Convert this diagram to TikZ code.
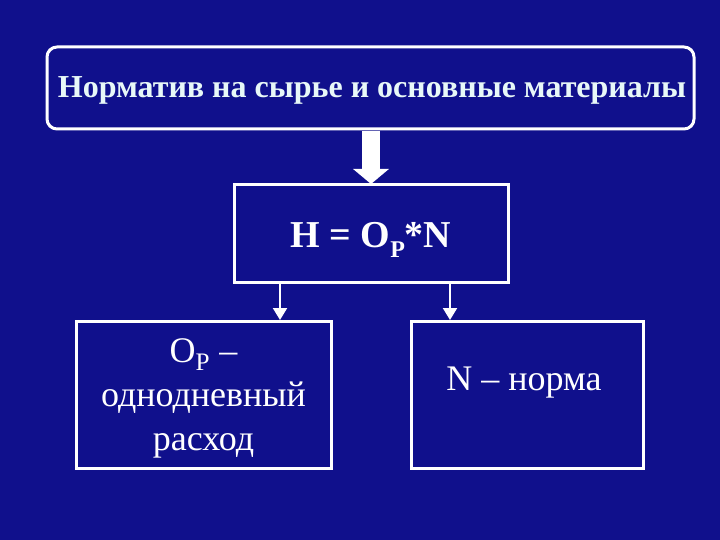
\documentclass[tikz,border=0pt]{standalone}
\usepackage{fontspec}
\setmainfont{Liberation Serif}
\usetikzlibrary{arrows.meta}
\definecolor{bg}{RGB}{16,16,140}
\definecolor{lighttext}{RGB}{232,248,248}
\tikzset{
  box/.style={draw=white, line width=3pt, fill=bg, inner sep=0pt},
  thinarrow/.style={draw=white, line width=2pt, -{Triangle[width=14pt,length=12pt]}},
}
\newcommand{\lowsub}[1]{\raisebox{-0.28em}{\fontsize{24}{26}\selectfont #1}}
\begin{document}
\begin{tikzpicture}[x=1pt,y=-1pt]
\fill[bg] (0,0) rectangle (720,540);
\useasboundingbox (0,0) rectangle (720,540);
\node[box, rounded corners=10pt, minimum width=647pt, minimum height=82pt] (top) at (370.5,88) {};
\node[text=lighttext, font=\fontsize{32}{36}\selectfont\bfseries] (toptext) at (372,90) {Норматив на сырье и основные материалы};
\node[box, minimum width=274pt, minimum height=97pt] (mid) at (371,233.5) {};
\node[text=white, font=\fontsize{38}{42}\selectfont\bfseries] (midtext) at (371,240) {H = O\lowsub{P}*N};
\node[box, minimum width=255pt, minimum height=147pt] (left) at (203.5,394.5) {};
\node[box, minimum width=232pt, minimum height=147pt] (right) at (527,394.5) {};
\node[text=white, font=\fontsize{36}{44}\selectfont, align=center] (lefttext) at (203.5,398) {O\textsubscript{P} –\\однодневный\\расход};
\node[text=white, font=\fontsize{36}{40}\selectfont] (righttext) at (524,383) {N – норма};
\coordinate (bigfrom) at (371,131);
\coordinate (bigto) at (371,184);
\draw[draw=white, line width=18pt, -{Triangle[width=35pt,length=15pt]}] (bigfrom) -- (bigto);
\coordinate (la) at (280,283);
\coordinate (lb) at (280,320);
\coordinate (ra) at (450,283);
\coordinate (rb) at (450,320);
\draw[thinarrow] (la) -- (lb);
\draw[thinarrow] (ra) -- (rb);
\end{tikzpicture}
\end{document}
